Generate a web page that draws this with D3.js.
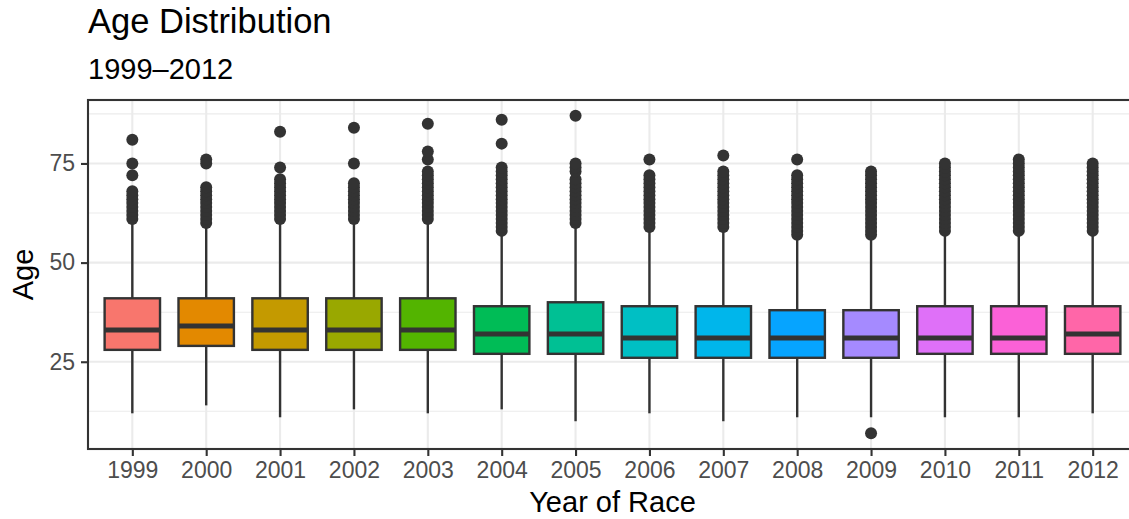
<!DOCTYPE html>
<html>
<head>
<meta charset="utf-8">
<script src="https://cdn.jsdelivr.net/npm/d3@7"></script>
<style>
  body { margin: 0; background: #fff; }
  text { font-family: "Liberation Sans", Arial, Helvetica, sans-serif; }
</style>
</head>
<body>
<svg width="1129" height="519"></svg>
<script>
// box stats (ages)
const years = ['1999', '2000', '2001', '2002', '2003', '2004', '2005', '2006', '2007', '2008', '2009', '2010', '2011', '2012'];
const lowerWhisker = [12, 14, 11, 13, 12, 13, 10, 12, 10, 11, 11, 11, 11, 12];
const q1 = [28, 29, 28, 28, 28, 27, 27, 26, 26, 26, 26, 27, 27, 27];
const median = [33, 34, 33, 33, 33, 32, 32, 31, 31, 31, 31, 31, 31, 32];
const q3 = [41, 41, 41, 41, 41, 39, 40, 39, 39, 38, 38, 39, 39, 39];
const upperWhisker = [60, 59, 60, 60, 60, 57, 59, 58, 58, 56, 56, 57, 57, 57];
const outliers = [
    [61, 62, 63, 64, 65, 66, 67, 68, 72, 75, 81],
    [60, 61, 62, 63, 64, 65, 66, 67, 68, 69, 75, 76],
    [61, 62, 63, 64, 65, 66, 67, 68, 69, 70, 71, 74, 83],
    [61, 62, 63, 64, 65, 66, 67, 68, 69, 70, 75, 84],
    [61, 62, 63, 64, 65, 66, 67, 68, 69, 70, 71, 72, 73, 76, 78, 85],
    [58, 59, 60, 61, 62, 63, 64, 65, 66, 67, 68, 69, 70, 71, 72, 73, 74, 80, 86],
    [60, 61, 62, 63, 64, 65, 66, 67, 68, 69, 70, 71, 73, 74, 75, 87],
    [59, 60, 61, 62, 63, 64, 65, 66, 67, 68, 69, 70, 71, 72, 76],
    [59, 60, 61, 62, 63, 64, 65, 66, 67, 68, 69, 70, 71, 72, 73, 77],
    [57, 58, 59, 60, 61, 62, 63, 64, 65, 66, 67, 68, 69, 70, 71, 72, 76],
    [7, 57, 58, 59, 60, 61, 62, 63, 64, 65, 66, 67, 68, 69, 70, 71, 72, 73],
    [58, 59, 60, 61, 62, 63, 64, 65, 66, 67, 68, 69, 70, 71, 72, 73, 74, 75],
    [58, 59, 60, 61, 62, 63, 64, 65, 66, 67, 68, 69, 70, 71, 72, 73, 74, 75, 76],
    [58, 59, 60, 61, 62, 63, 64, 65, 66, 67, 68, 69, 70, 71, 72, 73, 74, 75]
];
const colors = ['#F8766D', '#E38900', '#C49A00', '#99A800', '#53B400', '#00BC56', '#00C094',
    '#00BFC4', '#00B6EB', '#06A4FF', '#A58AFF', '#DF70F8', '#FB61D7', '#FF66A8'];
const yTicks = [25, 50, 75];
const yMinor = [12.5, 37.5, 62.5, 87.5];

const boxes = years.map((y, i) => ({
    year: y, lo: lowerWhisker[i], q1: q1[i], med: median[i], q3: q3[i], hi: upperWhisker[i],
    out: outliers[i], color: colors[i]
}));

const pLeft = 88, pRight = 1137, pTop = 100, pBottom = 449;
const ink = '#333333';

const svg = d3.select('svg');

const xScale = d3.scalePoint()
    .domain(years)
    .range([pLeft, pRight])
    .padding(0.6);

const yScale = d3.scaleLinear()
    .domain([3, 91])
    .range([pBottom, pTop]);

const boxW = xScale.step() * 0.75;

// grid
svg.append('g').selectAll('line')
    .data(yMinor)
    .enter().append('line')
    .attr('x1', pLeft).attr('x2', pRight)
    .attr('y1', d => yScale(d)).attr('y2', d => yScale(d))
    .attr('stroke', '#EBEBEB').attr('stroke-width', 1.1);

svg.append('g').selectAll('line')
    .data(yTicks)
    .enter().append('line')
    .attr('x1', pLeft).attr('x2', pRight)
    .attr('y1', d => yScale(d)).attr('y2', d => yScale(d))
    .attr('stroke', '#EBEBEB').attr('stroke-width', 2.1);

svg.append('g').selectAll('line')
    .data(years)
    .enter().append('line')
    .attr('x1', d => xScale(d)).attr('x2', d => xScale(d))
    .attr('y1', pTop).attr('y2', pBottom)
    .attr('stroke', '#EBEBEB').attr('stroke-width', 2.1);

// boxplots
const g = svg.append('g').selectAll('g')
    .data(boxes)
    .enter().append('g');

// whiskers
g.append('line')
    .attr('x1', d => xScale(d.year)).attr('x2', d => xScale(d.year))
    .attr('y1', d => yScale(d.q3)).attr('y2', d => yScale(d.hi))
    .attr('stroke', ink).attr('stroke-width', 2.4);
g.append('line')
    .attr('x1', d => xScale(d.year)).attr('x2', d => xScale(d.year))
    .attr('y1', d => yScale(d.q1)).attr('y2', d => yScale(d.lo))
    .attr('stroke', ink).attr('stroke-width', 2.4);

g.append('rect')
    .attr('x', d => xScale(d.year) - boxW / 2)
    .attr('y', d => yScale(d.q3))
    .attr('width', boxW)
    .attr('height', d => yScale(d.q1) - yScale(d.q3))
    .attr('fill', d => d.color)
    .attr('stroke', ink).attr('stroke-width', 2.4);

g.append('line')
    .attr('x1', d => xScale(d.year) - boxW / 2).attr('x2', d => xScale(d.year) + boxW / 2)
    .attr('y1', d => yScale(d.med)).attr('y2', d => yScale(d.med))
    .attr('stroke', ink).attr('stroke-width', 5);

g.selectAll('circle')
    .data(d => d.out.map(v => ({ year: d.year, v: v })))
    .enter().append('circle')
    .attr('cx', d => xScale(d.year))
    .attr('cy', d => yScale(d.v))
    .attr('r', 6)
    .attr('fill', ink);

// panel border
svg.append('rect')
    .attr('x', pLeft).attr('y', pTop)
    .attr('width', pRight - pLeft).attr('height', pBottom - pTop)
    .attr('fill', 'none').attr('stroke', ink).attr('stroke-width', 2.1);

// axes
const xAxis = svg.append('g')
    .attr('transform', `translate(0, ${pBottom})`)
    .call(d3.axisBottom(xScale).tickSize(7).tickPadding(6));
const yAxis = svg.append('g')
    .attr('transform', `translate(${pLeft}, 0)`)
    .call(d3.axisLeft(yScale).tickValues(yTicks).tickSize(7).tickPadding(6));

[xAxis, yAxis].forEach(a => {
    a.select('.domain').remove();
    a.selectAll('.tick line').attr('stroke', ink).attr('stroke-width', 2.1);
    a.selectAll('.tick text')
        .attr('fill', '#4D4D4D')
        .style('font-size', '23px')
        .style('font-family', '"Liberation Sans", Arial, sans-serif');
});

// titles
svg.append('text')
    .attr('x', pLeft).attr('y', 33)
    .attr('fill', '#000')
    .style('font-size', '34.5px')
    .text('Age Distribution');

svg.append('text')
    .attr('x', pLeft).attr('y', 79)
    .attr('fill', '#000')
    .style('font-size', '29px')
    .text('1999\u20132012');

svg.append('text')
    .attr('x', (pLeft + pRight) / 2).attr('y', 512)
    .attr('text-anchor', 'middle')
    .style('font-size', '29px')
    .text('Year of Race');

svg.append('text')
    .attr('transform', `translate(33, ${(pTop + pBottom) / 2}) rotate(-90)`)
    .attr('text-anchor', 'middle')
    .style('font-size', '29px')
    .text('Age');
</script>
</body>
</html>
